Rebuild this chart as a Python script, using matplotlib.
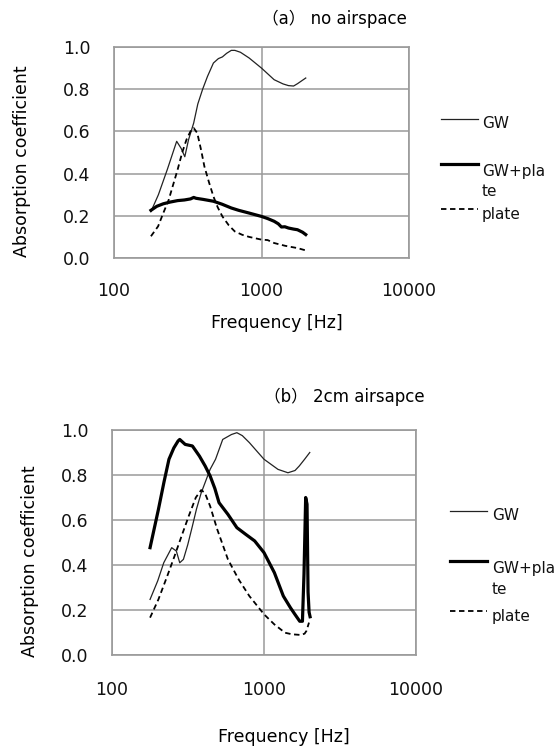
import matplotlib
matplotlib.use("Agg")
import matplotlib.pyplot as plt
from matplotlib.lines import Line2D
from matplotlib.ticker import FixedLocator, FixedFormatter, NullLocator

plt.rcParams['font.family'] = ['DejaVu Sans', 'Noto Sans CJK JP']

# ---------- data: (a) no airspace ----------
a_gw_f = [178, 200, 230, 266, 285, 302, 320, 347, 370, 399, 430, 472, 510, 543, 580, 624, 660, 720,
          824, 1000, 1218, 1400, 1524, 1650, 1753, 1995]
a_gw_v = [0.22, 0.30, 0.42, 0.553, 0.52, 0.48, 0.56, 0.64, 0.73, 0.80, 0.86, 0.924, 0.945, 0.953, 0.97,
          0.984, 0.984, 0.975, 0.948, 0.90, 0.845, 0.825, 0.817, 0.815, 0.826, 0.853]

a_gwp_f = [178, 195, 216, 240, 270, 300, 330, 347, 360, 400, 472, 540, 624, 700, 824, 1000, 1100, 1218,
           1300, 1365, 1440, 1524, 1650, 1753, 1900, 1995]
a_gwp_v = [0.226, 0.245, 0.257, 0.265, 0.272, 0.275, 0.28, 0.287, 0.283, 0.278, 0.269, 0.255, 0.237,
           0.226, 0.213, 0.197, 0.187, 0.174, 0.162, 0.147, 0.148, 0.142, 0.137, 0.134, 0.122, 0.111]

a_pl_f = [178, 199, 215, 235, 250, 270, 290, 310, 330, 347, 367, 390, 410, 440, 472, 505, 543, 600, 659,
          740, 824, 1000, 1100, 1218, 1443, 1600, 1753, 1995]
a_pl_v = [0.103, 0.15, 0.21, 0.276, 0.34, 0.419, 0.50, 0.561, 0.60, 0.616, 0.592, 0.51, 0.434, 0.36,
          0.292, 0.24, 0.197, 0.155, 0.126, 0.11, 0.10, 0.087, 0.085, 0.071, 0.058, 0.052, 0.047, 0.036]

# ---------- data: (b) 2cm airspace ----------
b_gw_f = [178, 200, 219, 247, 265, 279, 295, 315, 338, 360, 386, 442, 480, 535, 611, 663, 720, 801, 900,
          1000, 1236, 1437, 1600, 1706, 1850, 2000]
b_gw_v = [0.247, 0.33, 0.41, 0.477, 0.462, 0.41, 0.425, 0.49, 0.573, 0.65, 0.72, 0.825, 0.87, 0.958,
          0.98, 0.988, 0.975, 0.944, 0.905, 0.87, 0.825, 0.81, 0.82, 0.84, 0.87, 0.90]

b_gwp_f = [178, 202, 220, 237, 255, 272, 279, 303, 338, 376, 410, 442, 475, 506, 579, 663, 759, 868, 1000,
           1170, 1340, 1493, 1600, 1718, 1790, 1833, 1880, 1919, 1949, 1980, 2010]
b_gwp_v = [0.477, 0.647, 0.77, 0.87, 0.92, 0.951, 0.958, 0.936, 0.929, 0.884, 0.84, 0.796, 0.74, 0.677,
           0.625, 0.566, 0.536, 0.507, 0.455, 0.366, 0.262, 0.21, 0.18, 0.15, 0.15, 0.36, 0.70, 0.67,
           0.28, 0.19, 0.17]

b_pl_f = [178, 202, 231, 258, 287, 320, 356, 386, 408, 442, 492, 579, 681, 801, 1000, 1170, 1374, 1530,
          1754, 1850, 1902, 1977]
b_pl_v = [0.166, 0.247, 0.351, 0.44, 0.529, 0.618, 0.70, 0.733, 0.721, 0.662, 0.559, 0.425, 0.336, 0.262,
          0.181, 0.136, 0.099, 0.092, 0.089, 0.095, 0.107, 0.144]

x_ticks = [100, 1000, 10000]
x_ticklabels = ["100", "1000", "10000"]
y_ticks = [0.0, 0.2, 0.4, 0.6, 0.8, 1.0]
y_ticklabels = ["0.0", "0.2", "0.4", "0.6", "0.8", "1.0"]
legend_labels = ["GW", "GW+pla\nte", "plate"]
titles = ["\uff08a\uff09 no airspace", "\uff08b\uff09 2cm airsapce"]

W, H = 559, 747
fig = plt.figure(figsize=(W / 100, H / 100), dpi=100)

GRID = "#9a9a9a"
styles = [dict(color="#222222", lw=0.9, ls="-"),
          dict(color="black", lw=2.3, ls="-"),
          dict(color="black", lw=1.3, ls=(0, (3, 2)))]


def px_box(l, r, t, b):
    return [l / W, 1 - b / H, (r - l) / W, (b - t) / H]


def setup(ax, xpad, ypad):
    ax.set_xscale("log")
    ax.set_xlim(100, 10000)
    ax.set_ylim(0, 1.0)
    ax.xaxis.set_major_locator(FixedLocator(x_ticks))
    ax.xaxis.set_major_formatter(FixedFormatter(x_ticklabels))
    ax.xaxis.set_minor_locator(NullLocator())
    ax.yaxis.set_major_locator(FixedLocator(y_ticks))
    ax.yaxis.set_major_formatter(FixedFormatter(y_ticklabels))
    ax.tick_params(axis="x", length=0, pad=xpad, labelsize=12.5, colors="#111111")
    ax.tick_params(axis="y", length=0, pad=ypad, labelsize=12.5, colors="#111111")
    ax.grid(True, which="major", color=GRID, lw=1.1)
    ax.set_axisbelow(True)
    for s in ax.spines.values():
        s.set_color(GRID)
        s.set_linewidth(1.2)


def legend(hx0, hx1, tx, line_ys, text_ys):
    for i, st in enumerate(styles):
        y = 1 - line_ys[i] / H
        fig.add_artist(Line2D([hx0 / W, hx1 / W], [y, y], transform=fig.transFigure,
                              color=st["color"], lw=st["lw"], ls=st["ls"]))
        fig.text(tx / W, 1 - text_ys[i] / H, legend_labels[i], fontsize=11, ha="left",
                 va="center", linespacing=1.45, color="#111111")


# ---------- panel (a) ----------
ax1 = fig.add_axes(px_box(114, 409, 47, 258))
setup(ax1, 17, 17)
ax1.plot(a_gw_f, a_gw_v, **styles[0])
ax1.plot(a_gwp_f, a_gwp_v, **styles[1])
ax1.plot(a_pl_f, a_pl_v, **styles[2])
fig.text(334 / W, 1 - 19 / H, titles[0], fontsize=12, ha="center", va="center")
fig.text(277 / W, 1 - 323 / H, "Frequency [Hz]", fontsize=12.5, ha="center", va="center")
fig.text(22 / W, 1 - 161 / H, "Absorption coefficient", fontsize=12.5, rotation=90,
         ha="center", va="center")
legend(441, 478, 482, [119, 164, 209], [124, 181.5, 215])

# ---------- panel (b) ----------
ax2 = fig.add_axes(px_box(112, 416, 430, 655))
setup(ax2, 19, 17)
ax2.plot(b_gw_f, b_gw_v, **styles[0])
ax2.plot(b_gwp_f, b_gwp_v, **styles[1])
ax2.plot(b_pl_f, b_pl_v, **styles[2])
fig.text(344 / W, 1 - 397 / H, titles[1], fontsize=12, ha="center", va="center")
fig.text(284 / W, 1 - 737 / H, "Frequency [Hz]", fontsize=12.5, ha="center", va="center")
fig.text(30 / W, 1 - 561 / H, "Absorption coefficient", fontsize=12.5, rotation=90,
         ha="center", va="center")
legend(450, 487, 492, [511, 561, 611], [515, 579, 616])

fig.savefig("out.png", dpi=100, facecolor="white")
